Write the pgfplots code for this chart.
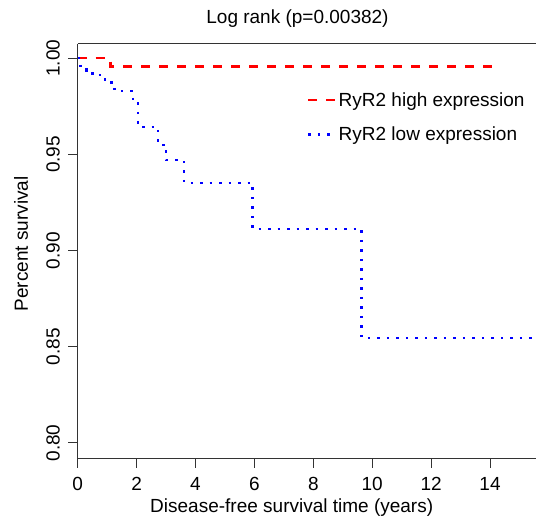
\documentclass[border=0pt]{standalone}
\usepackage{pgfplots}
\pgfplotsset{compat=1.18}
\usepackage{fontspec}
\setmainfont{Liberation Sans}
\usetikzlibrary{calc}

\definecolor{kmred}{RGB}{255,0,0}
\definecolor{kmblue}{RGB}{0,0,255}

\begin{document}
\begin{tikzpicture}
\begin{axis}[
    name=ax,
    scale only axis,
    width=458.3pt, height=414pt,
    xmin=0, xmax=15.56,
    ymin=0.7922, ymax=1.0074,
    axis x line*=bottom, axis y line*=left,
    axis line style={black!80, line width=1pt},
    tick style={black!80, line width=1pt},
    tick align=outside,
    major tick length=9.5pt,
    xtick={0,2,4,6,8,10,12,14},
    ytick={0.80,0.85,0.90,0.95,1.00},
    yticklabels={0.80,0.85,0.90,0.95,1.00},
    font=\fontsize{19}{22}\selectfont,
    ticklabel style={font=\fontsize{19}{22}\selectfont},
    /pgf/number format/assume math mode=true,
    yticklabel style={rotate=90, anchor=base, yshift=8.5pt},
    xticklabel style={anchor=base, yshift=-22.5pt},
    title={Log rank (p=0.00382)},
    title style={at={(axis description cs:0.4796,1)}, anchor=base, yshift=14pt, inner sep=0pt},
    xlabel={Disease-free survival time (years)},
    xlabel style={at={(axis description cs:0.467,0)}, anchor=base, yshift=-54.7pt, inner sep=0pt},
    ylabel={Percent survival},
    ylabel style={at={(axis description cs:0,0.517)}, anchor=base, yshift=49.7pt, inner sep=0pt},
    legend style={at={(axis description cs:0.4938,0.893)}, anchor=north west, draw=none, fill=none,
        font=\fontsize{19}{22}\selectfont, row sep=15pt,
        /tikz/every even column/.append style={column sep=3pt}},
    legend cell align=left,
    legend image code/.code={\draw[#1] (0pt,0pt) -- (27pt,0pt);},
]
\addplot[kmred, line width=2.5pt, dash pattern=on 9pt off 9pt, const plot] coordinates {
    (0,1.0) (1.107,0.9956) (14.33,0.9956)
};
\addlegendentry{RyR2 high expression}
\addplot[kmblue, line width=2.5pt, dash pattern=on 2.5pt off 7pt, const plot] coordinates {
    (0,1.0) (0.1,0.996) (0.3,0.9937) (0.5,0.9913) (0.93,0.9874) (1.25,0.983)
    (1.88,0.9765) (2.05,0.9643) (2.73,0.955) (3.0,0.947) (3.61,0.9352)
    (5.94,0.9113) (9.64,0.8546) (15.56,0.8546)
};
\addlegendentry{RyR2 low expression}
\end{axis}
\draw[black!80, line width=1pt] (ax.north west) -- (ax.north east);
\pgfresetboundingbox
\path ($(ax.south west)+(-77.7pt,-60pt)$) rectangle ($(ax.north east)+(0pt,44pt)$);
\end{tikzpicture}
\end{document}
